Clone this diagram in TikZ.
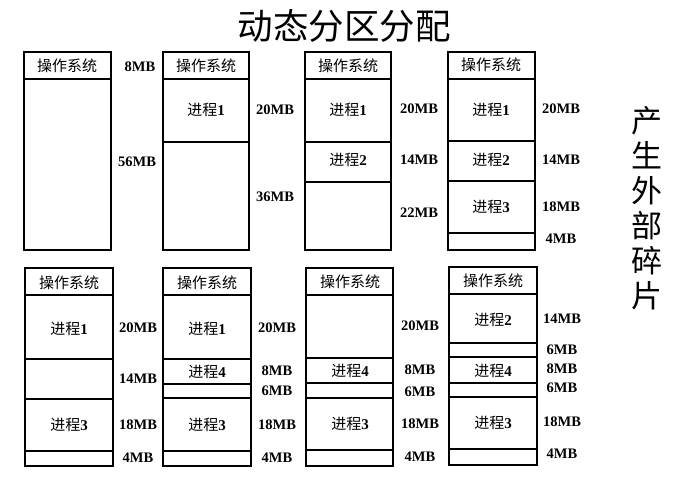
\documentclass[tikz,border=0pt]{standalone}
\usepackage{fontspec}
\setmainfont{Liberation Serif}
\newfontfamily\cjk{Noto Sans CJK SC}
\newcommand{\jc}[1]{{\cjk 进程}\textbf{#1}}
\newcommand{\osname}{{\cjk 操作系统}}

\tikzset{
  mem/.style={draw,line width=1.3pt},
  cut/.style={line width=1.1pt},
  size/.style={font=\bfseries\fontsize{14.5}{16}\selectfont,inner sep=0pt},
  part/.style={font=\fontsize{15}{16}\selectfont,inner sep=0pt},
}

\begin{document}
\begin{tikzpicture}[x=1pt,y=-1pt]
  \useasboundingbox (0,0) rectangle (679,477);
  \node[font=\cjk\fontsize{35.5}{36}\selectfont] (title) at (344,26) {动态分区分配};
  \node[font=\cjk\fontsize{31}{35}\selectfont,align=center] (note) at (647,208) {产\\生\\外\\部\\碎\\片};
  % top row, box 1
  \draw[mem] (24,52) rectangle (111,250);
  \draw[cut] (24,79) -- (111,79);
  \node[part] (t1os) at (67,66) {\osname};
  \node[size] (t1a) at (140,67) {8MB};
  \node[size] (t1b) at (137,162) {56MB};
  % top row, box 2
  \draw[mem] (163,52) rectangle (249,250);
  \foreach \y in {79,142} \draw[cut] (163,\y) -- (249,\y);
  \node[part] (t2os) at (206,66) {\osname};
  \node[part] (t2p1) at (206,110) {\jc{1}};
  \node[size] (t2a) at (275,110) {20MB};
  \node[size] (t2b) at (275,197) {36MB};
  % top row, box 3
  \draw[mem] (305,52) rectangle (391,250);
  \foreach \y in {79,142,182} \draw[cut] (305,\y) -- (391,\y);
  \node[part] (t3os) at (348,66) {\osname};
  \node[part] (t3p1) at (348,110) {\jc{1}};
  \node[part] (t3p2) at (348,160) {\jc{2}};
  \node[size] (t3a) at (419,109) {20MB};
  \node[size] (t3b) at (419,160) {14MB};
  \node[size] (t3c) at (419,213) {22MB};
  % top row, box 4
  \draw[mem] (448,52) rectangle (535,250);
  \foreach \y in {79,141,181,233} \draw[cut] (448,\y) -- (535,\y);
  \node[part] (t4os) at (491,65) {\osname};
  \node[part] (t4p1) at (491,110) {\jc{1}};
  \node[part] (t4p2) at (491,160) {\jc{2}};
  \node[part] (t4p3) at (491,207) {\jc{3}};
  \node[size] (t4a) at (561,109) {20MB};
  \node[size] (t4b) at (561,160) {14MB};
  \node[size] (t4c) at (561,207) {18MB};
  \node[size] (t4d) at (561,239) {4MB};
  % bottom row, box 1
  \draw[mem] (25,268) rectangle (113,466);
  \foreach \y in {295,359,399,451} \draw[cut] (25,\y) -- (113,\y);
  \node[part] (b1os) at (69,283) {\osname};
  \node[part] (b1p1) at (69,329) {\jc{1}};
  \node[part] (b1p3) at (69,425) {\jc{3}};
  \node[size] (b1a) at (138,328) {20MB};
  \node[size] (b1b) at (138,379) {14MB};
  \node[size] (b1c) at (138,425) {18MB};
  \node[size] (b1d) at (138,458) {4MB};
  % bottom row, box 2
  \draw[mem] (163,268) rectangle (251,466);
  \foreach \y in {295,359,384,398,451} \draw[cut] (163,\y) -- (251,\y);
  \node[part] (b2os) at (207,283) {\osname};
  \node[part] (b2p1) at (207,329) {\jc{1}};
  \node[part] (b2p4) at (207,372) {\jc{4}};
  \node[part] (b2p3) at (207,425) {\jc{3}};
  \node[size] (b2a) at (277,328) {20MB};
  \node[size] (b2b) at (277,371) {8MB};
  \node[size] (b2c) at (277,391) {6MB};
  \node[size] (b2d) at (277,425) {18MB};
  \node[size] (b2e) at (277,458) {4MB};
  % bottom row, box 3
  \draw[mem] (306,268) rectangle (393,466);
  \foreach \y in {295,358,383,398,450} \draw[cut] (306,\y) -- (393,\y);
  \node[part] (b3os) at (350,282) {\osname};
  \node[part] (b3p4) at (350,371) {\jc{4}};
  \node[part] (b3p3) at (350,424) {\jc{3}};
  \node[size] (b3a) at (420,326) {20MB};
  \node[size] (b3b) at (420,370) {8MB};
  \node[size] (b3c) at (420,392) {6MB};
  \node[size] (b3d) at (420,424) {18MB};
  \node[size] (b3e) at (420,457) {4MB};
  % bottom row, box 4
  \draw[mem] (449,267) rectangle (537,465);
  \foreach \y in {294,343,357,383,397,449} \draw[cut] (449,\y) -- (537,\y);
  \node[part] (b4os) at (493,281) {\osname};
  \node[part] (b4p2) at (493,320) {\jc{2}};
  \node[part] (b4p4) at (493,371) {\jc{4}};
  \node[part] (b4p3) at (493,423) {\jc{3}};
  \node[size] (b4a) at (562,319) {14MB};
  \node[size] (b4b) at (562,350) {6MB};
  \node[size] (b4c) at (562,369) {8MB};
  \node[size] (b4d) at (562,388) {6MB};
  \node[size] (b4e) at (562,422) {18MB};
  \node[size] (b4f) at (562,454) {4MB};
\end{tikzpicture}
\end{document}
